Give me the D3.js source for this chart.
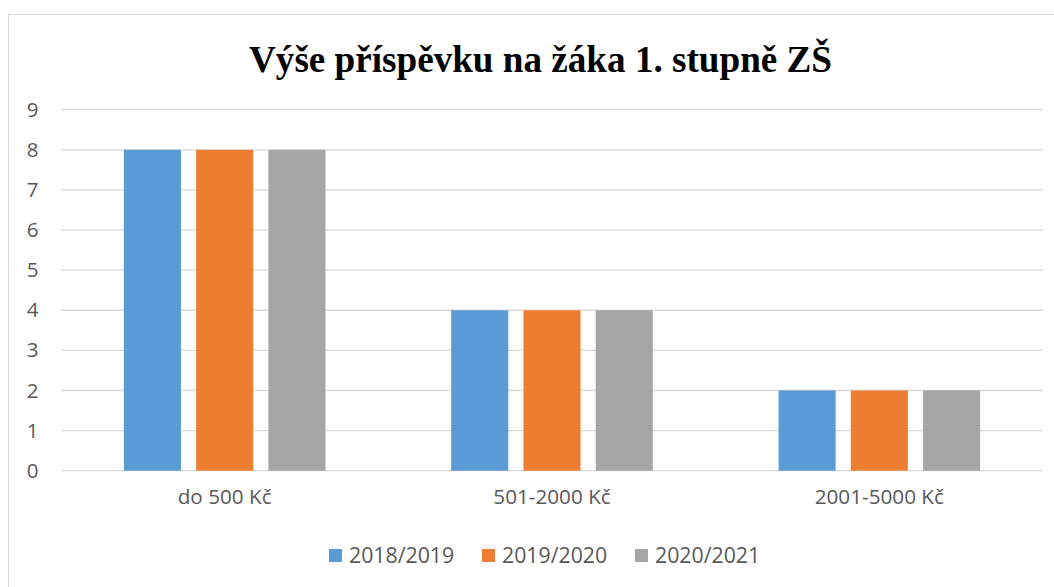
<!DOCTYPE html>
<html><head><meta charset="utf-8">
<script src="https://cdn.jsdelivr.net/npm/d3@7"></script>
<style>html,body{margin:0;padding:0;background:#fff;overflow:hidden}</style>
</head><body>
<svg id="c" width="1054" height="587"></svg>
<script>
const title = "Výše příspěvku na žáka 1. stupně ZŠ";
const categories = ["do 500 Kč", "501-2000 Kč", "2001-5000 Kč"];
const seriesNames = ["2018/2019", "2019/2020", "2020/2021"];
const s2018 = [8, 4, 2];
const s2019 = [8, 4, 2];
const s2020 = [8, 4, 2];
const yTicks = [0, 1, 2, 3, 4, 5, 6, 7, 8, 9];
const colors = ["#5b9bd5", "#ed7d31", "#a5a5a5"];

(function () {
const series = [s2018, s2019, s2020];
const svg = d3.select("#c");
const textColor = "#595959";
const font = "'Open Sans', sans-serif";

// outer border
svg.append("rect").attr("x", 8.5).attr("y", 14.5).attr("width", 1100).attr("height", 700)
  .attr("fill", "none").attr("stroke", "#d9d9d9").attr("stroke-width", 1);

const pl = 61, pr = 1043, pt = 109.7, pb = 470.7;
const x = d3.scaleBand().domain(categories).range([pl, pr]).paddingInner(0).paddingOuter(0);
const x1 = d3.scaleBand().domain(seriesNames).range([0, x.bandwidth()]).paddingInner(0.21).paddingOuter(0.87);
const y = d3.scaleLinear().domain([0, 9]).range([pb, pt]);

// gridlines
svg.append("g").selectAll("line").data(yTicks).join("line")
  .attr("x1", pl).attr("x2", pr)
  .attr("y1", d => y(d)).attr("y2", d => y(d))
  .attr("stroke", "#d9d9d9").attr("stroke-width", 1.3);

// y axis labels
const yAxis = d3.axisLeft(y).tickValues(yTicks).tickSize(0).tickPadding(0);
const gy = svg.append("g").attr("transform", `translate(38.5,0)`).call(yAxis);
gy.select(".domain").remove();
gy.selectAll("text").attr("fill", textColor).style("font-family", font).style("font-size", "20.5px");

// bars
const groups = svg.append("g").selectAll("g").data(categories).join("g")
  .attr("transform", d => `translate(${x(d)},0)`);
groups.selectAll("rect").data((c, ci) => seriesNames.map((s, si) => ({s, si, v: series[si][ci]})))
  .join("rect")
  .attr("x", d => x1(d.s)).attr("width", x1.bandwidth())
  .attr("y", d => y(d.v)).attr("height", d => y(0) - y(d.v))
  .attr("fill", d => colors[d.si]);

// x axis labels
const xAxis = d3.axisBottom(x).tickSize(0).tickPadding(0);
const gx = svg.append("g").attr("transform", `translate(0,${pb + 19})`).call(xAxis);
gx.select(".domain").remove();
gx.selectAll("text").attr("fill", textColor).style("font-family", font).style("font-size", "20.7px");

// title
svg.append("text").attr("x", 540.5).attr("y", 72).attr("text-anchor", "middle")
  .attr("textLength", 583).attr("lengthAdjust", "spacingAndGlyphs")
  .style("font-family", "'Liberation Serif', 'Times New Roman', serif").style("font-weight", "bold")
  .style("font-size", "38px").attr("fill", "#000").text(title);

// legend
const legX = [329, 482, 635];
const leg = svg.append("g").selectAll("g").data(seriesNames).join("g")
  .attr("transform", (d, i) => `translate(${legX[i]},549)`);
leg.append("rect").attr("width", 13).attr("height", 13).attr("fill", (d, i) => colors[i]);
leg.append("text").attr("x", 20).attr("y", 13.5).attr("fill", textColor)
  .style("font-family", font).style("font-size", "21.3px").text(d => d);
})();
</script>
</body></html>
